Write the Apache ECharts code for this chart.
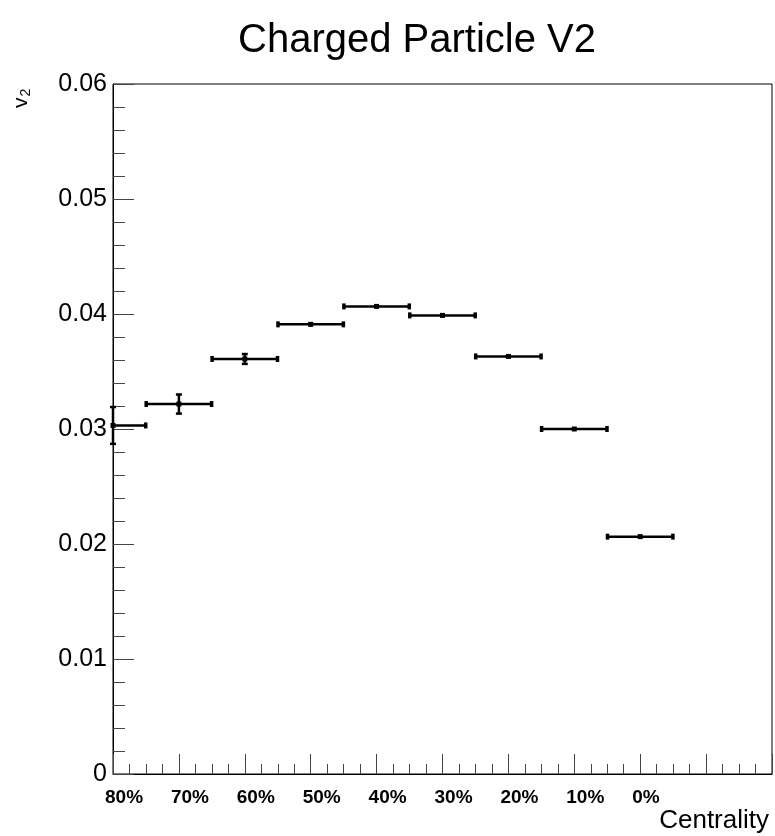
<!DOCTYPE html>
<html>
<head>
<meta charset="utf-8">
<script src="https://cdn.jsdelivr.net/npm/echarts@6/dist/echarts.min.js"></script>
<style>
  html, body { margin: 0; padding: 0; background: #fff; }
  #chart { width: 775px; height: 836px; }
</style>
</head>
<body>
<div id="chart"></div>
<script>
// Centrality classes, one per bin (bin i is centred at x = i)
const centralityLabels = ['80%', '70%', '60%', '50%', '40%', '30%', '20%', '10%', '0%'];
// Charged-particle elliptic flow per centrality bin
const v2Values = [0.03031, 0.03217, 0.03609, 0.03910, 0.04066, 0.03988, 0.03631, 0.03000, 0.02064];
// Statistical uncertainty on v2
const v2Errors = [0.0016, 0.00083, 0.00043, 0.0002, 0.00012, 0.0001, 0.0001, 0.00005, 0.0001];
// Half-width of each centrality bin (x error)
const binHalfWidth = 0.5;

const X_MIN = 0, X_MAX = 10;
const FONT = '"Liberation Sans", Arial, Helvetica, sans-serif';

const chart = echarts.init(document.getElementById('chart'), null, { renderer: 'canvas' });

const points = v2Values.map((v, i) => [i, v, v2Errors[i]]);

function renderErrorPoint(params, api) {
  const x = api.value(0), y = api.value(1), e = api.value(2);
  const c = api.coord([x, y]);
  const xl = Math.max(x - binHalfWidth, X_MIN);
  const left = api.coord([xl, y])[0];
  const right = api.coord([x + binHalfWidth, y])[0];
  const top = api.coord([x, y + e])[1];
  const bot = api.coord([x, y - e])[1];
  const line = { stroke: '#000', lineWidth: 2.5 };
  const children = [
    { type: 'line', shape: { x1: left, y1: c[1], x2: right, y2: c[1] }, style: line },
    { type: 'line', shape: { x1: c[0], y1: top, x2: c[0], y2: bot }, style: line }
  ];
  // end caps on the horizontal (bin width) bar
  if (x - binHalfWidth >= X_MIN) {
    children.push({ type: 'rect', shape: { x: left - 1.5, y: c[1] - 3, width: 3.5, height: 6 }, style: { fill: '#000' } });
  }
  children.push({ type: 'rect', shape: { x: right - 2, y: c[1] - 3, width: 3.5, height: 6 }, style: { fill: '#000' } });
  // end caps on the vertical (uncertainty) bar
  if (bot - top > 5) {
    children.push({ type: 'line', shape: { x1: c[0] - 3, y1: top, x2: c[0] + 3, y2: top }, style: line });
    children.push({ type: 'line', shape: { x1: c[0] - 3, y1: bot, x2: c[0] + 3, y2: bot }, style: line });
  }
  // marker
  children.push({ type: 'rect', shape: { x: c[0] - 2.5, y: c[1] - 2.5, width: 5, height: 5 }, style: { fill: '#000' } });
  return { type: 'group', children };
}

chart.setOption({
  animation: false,
  backgroundColor: '#fff',
  title: {
    text: 'Charged Particle V2',
    left: 233,
    top: 16,
    textStyle: { fontFamily: FONT, fontSize: 40, fontWeight: 'normal', color: '#000' }
  },
  grid: {
    left: 113, right: 2, top: 84, bottom: 62,
    show: true, borderColor: '#000', borderWidth: 1, backgroundColor: 'transparent'
  },
  xAxis: {
    type: 'value',
    min: X_MIN, max: X_MAX, interval: 1,
    name: 'Centrality',
    nameLocation: 'end',
    nameGap: -3,
    nameTextStyle: {
      fontFamily: FONT, fontSize: 26, color: '#000',
      align: 'right', verticalAlign: 'top', padding: [34, 0, 0, 0]
    },
    splitLine: { show: false },
    axisLine: { show: true, onZero: false, lineStyle: { color: '#000', width: 1 } },
    axisTick: { show: true, inside: true, length: 20, lineStyle: { color: '#444', width: 1 } },
    minorTick: { show: true, splitNumber: 4, length: 10, lineStyle: { color: '#444', width: 1 } },
    axisLabel: {
      fontFamily: FONT, fontSize: 19, fontWeight: 'bold', color: '#000',
      margin: 14, align: 'left', padding: [0, 0, 0, -8],
      showMinLabel: true, showMaxLabel: true,
      formatter: v => (centralityLabels[v] !== undefined ? centralityLabels[v] : '')
    }
  },
  yAxis: {
    type: 'value',
    min: 0, max: 0.06, interval: 0.01,
    splitLine: { show: false },
    axisLine: { show: true, lineStyle: { color: '#000', width: 1 } },
    axisTick: { show: true, inside: true, length: 21, lineStyle: { color: '#444', width: 1 } },
    minorTick: { show: true, splitNumber: 5, length: 12, lineStyle: { color: '#444', width: 1 } },
    axisLabel: {
      fontFamily: FONT, fontSize: 25, color: '#000', margin: 6,
      formatter: v => (v === 0 ? '0' : v.toFixed(2))
    }
  },
  graphic: [{
    type: 'text',
    x: 33, y: 108,
    rotation: Math.PI / 2,
    style: {
      text: '{v|v}{s|2}',
      align: 'left',
      verticalAlign: 'bottom',
      fill: '#000',
      fontFamily: FONT,
      rich: {
        v: { fontFamily: FONT, fontSize: 21, lineHeight: 22, verticalAlign: 'top', fill: '#000' },
        s: { fontFamily: FONT, fontSize: 14, lineHeight: 14, padding: [10, 0, 0, 1], verticalAlign: 'bottom', fill: '#000' }
      }
    }
  }],
  series: [{
    type: 'custom',
    renderItem: renderErrorPoint,
    data: points,
    encode: { x: 0, y: 1 },
    z: 10
  }]
});
</script>
</body>
</html>
